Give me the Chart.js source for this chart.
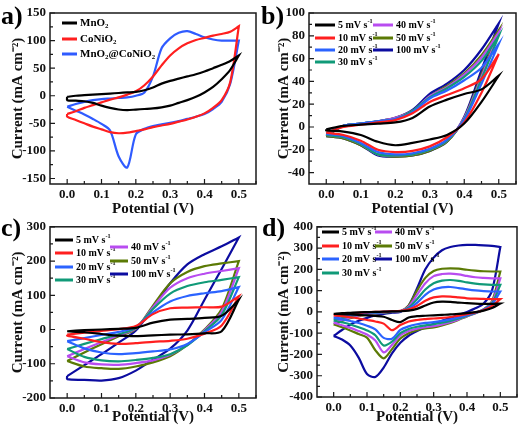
<!DOCTYPE html>
<html>
<head>
<meta charset="utf-8">
<script src="https://cdn.jsdelivr.net/npm/chart.js@4.4.0/dist/chart.umd.min.js"></script>
<style>
  body { margin: 0; background: #fff; }
  #wrap { position: relative; width: 520px; height: 429px; overflow: hidden; }
  canvas { position: absolute; }
  .tag { position: absolute; font: bold 26px "Liberation Serif", serif; line-height: 26px; color: #000; }
</style>
</head>
<body>
<div id="wrap">
  <canvas id="chartA" width="260" height="215" style="left:0;top:0"></canvas>
  <canvas id="chartB" width="260" height="215" style="left:260px;top:0"></canvas>
  <canvas id="chartC" width="260" height="214" style="left:0;top:215px"></canvas>
  <canvas id="chartD" width="260" height="214" style="left:260px;top:215px"></canvas>
  <div class="tag" style="left:1px;top:3px">a)</div>
  <div class="tag" style="left:261px;top:3px">b)</div>
  <div class="tag" style="left:1px;top:215px">c)</div>
  <div class="tag" style="left:262px;top:215px">d)</div>
</div>
<script>
// potential grids (V)
const potFine = [0, 0.025, 0.05, 0.075, 0.1, 0.125, 0.15, 0.175, 0.2, 0.225, 0.25,
                 0.275, 0.3, 0.325, 0.35, 0.375, 0.4, 0.425, 0.45, 0.475, 0.5];
const potCoarse = [0, 0.05, 0.1, 0.15, 0.2, 0.25, 0.3, 0.35, 0.4, 0.45, 0.5];

// tick labels
const xTicks = [0, 0.1, 0.2, 0.3, 0.4, 0.5];
const aYTicks = [-150, -100, -50, 0, 50, 100, 150];
const bYTicks = [-40, -20, 0, 20, 40, 60, 80, 100];
const cYTicks = [-200, -100, 0, 100, 200, 300];
const dYTicks = [-400, -300, -200, -100, 0, 100, 200, 300, 400];

// a) materials at one scan rate, current in mA cm-2 (Up = forward scan, Down = reverse)
const aMaterials = ['MnO_{2}', 'CoNiO_{2}', 'MnO_{2}@CoNiO_{2}'];
const aMnO2Up     = [-2, 0, 1, 2, 3, 4, 5, 6, 7, 10, 15, 22, 27, 31, 35, 39, 44, 50, 56, 63, 73];
const aMnO2Down   = [-8, -9, -10, -13, -18, -22, -25, -26, -25, -24, -23, -21, -18, -13, -8, -2, 6, 16, 30, 47, 73];
const aCoNiO2Up   = [-33, -28, -22, -17, -12, -7, -3, 2, 8, 19, 35, 55, 73, 86, 95, 101, 105, 109, 112, 116, 126];
const aCoNiO2Down = [-38, -44, -50, -56, -61, -66, -68, -67, -64, -61, -57, -54, -51, -47, -43, -38, -32, -22, -8, 25, 126];
const aCompUp     = [-20, -15, -11, -8, -6, -5, -4, -3, 0, 6, 35, 86, 104, 114, 117, 112, 106, 102, 100, 100, 100];
const aCompDown   = [-20, -27, -34, -42, -51, -63, -110, -130, -70, -60, -55, -52, -49, -46, -42, -38, -33, -24, -11, 22, 100];

// scan rates (mV s-1) used in b), c), d)
const rates = ['5', '10', '20', '30', '40', '50', '100'];

// b)
const b5Up     = [-2, 1, 2, 3, 4, 8, 18, 24, 29, 33, 45];
const b5Down   = [-3, -4, -7, -13, -16, -14, -11, -7, 3, 22, 45];
const b10Up    = [-5, 0, 2, 4, 6, 12, 22, 28, 34, 42, 64];
const b10Down  = [-5, -7, -12, -20, -22, -21, -17, -9, 4, 30, 64];
const b20Up    = [-6, 1, 3, 5, 7, 13, 25, 32, 41, 52, 73];
const b20Down  = [-6, -8, -14, -22, -24, -23, -19, -11, 6, 38, 73];
const b30Up    = [-7, 1, 3, 5, 7, 14, 26, 34, 44, 58, 80];
const b30Down  = [-7, -9, -15, -24, -25, -24, -20, -12, 7, 42, 80];
const b40Up    = [-7, 1, 3, 5, 8, 14, 27, 35, 46, 61, 83];
const b40Down  = [-7, -9, -15, -24, -25, -24, -20, -12, 8, 44, 83];
const b50Up    = [-8, 1, 3, 5, 8, 14, 27, 36, 47, 63, 85];
const b50Down  = [-8, -10, -16, -24, -26, -25, -21, -13, 8, 46, 85];
const b100Up   = [-8, 1, 3, 5, 8, 15, 29, 38, 50, 68, 91];
const b100Down = [-8, -10, -16, -25, -26, -25, -21, -13, 9, 50, 91];

// c)
const c5Up     = [-5, -2, 0, 2, 5, 20, 29, 31, 34, 40, 87];
const c5Down   = [-5, -8, -13, -18, -19, -17, -15, -14, -11, -5, 87];
const c10Up    = [-15, -9, -4, 1, 10, 45, 62, 64, 65, 67, 97];
const c10Down  = [-18, -27, -37, -42, -40, -36, -33, -27, -12, 12, 97];
const c20Up    = [-34, -25, -16, -7, 8, 50, 82, 98, 106, 112, 124];
const c20Down  = [-34, -55, -67, -72, -69, -64, -58, -42, -8, 28, 124];
const c30Up    = [-57, -42, -28, -14, 5, 60, 105, 127, 138, 145, 153];
const c30Down  = [-57, -80, -90, -93, -89, -83, -72, -46, -5, 42, 153];
const c40Up    = [-78, -57, -37, -17, 3, 65, 122, 150, 163, 171, 179];
const c40Down  = [-78, -96, -102, -103, -98, -90, -74, -45, -2, 52, 179];
const c50Up    = [-92, -67, -43, -20, 2, 70, 135, 168, 185, 193, 200];
const c50Down  = [-92, -108, -113, -115, -108, -96, -78, -45, 0, 60, 200];
const c100Up   = [-136, -104, -72, -38, -3, 65, 135, 190, 220, 243, 269];
const c100Down = [-145, -147, -149, -142, -120, -88, -56, -3, 87, 177, 269];

// d)
const d5Up     = [-9, -6, -4, -2, -1, 0, 1, 2, 3, 6, 14, 30, 44, 48, 47, 44, 41, 39, 38, 38, 39];
const d5Down   = [-9, -10, -12, -14, -16, -19, -23, -38, -48, -26, -20, -18, -16, -14, -12, -9, -6, -1, 6, 18, 39];
const d10Up    = [-16, -11, -7, -4, -2, 0, 1, 3, 5, 12, 28, 52, 68, 73, 72, 68, 64, 62, 61, 60, 60];
const d10Down  = [-16, -20, -25, -31, -38, -45, -55, -86, -62, -45, -38, -34, -31, -28, -24, -18, -11, -3, 9, 28, 60];
const d20Up    = [-28, -20, -14, -9, -5, -2, 0, 2, 4, 15, 42, 80, 105, 115, 117, 112, 106, 101, 98, 96, 96];
const d20Down  = [-28, -35, -43, -52, -65, -82, -122, -126, -85, -68, -58, -52, -48, -42, -35, -26, -15, -4, 11, 35, 96];
const d30Up    = [-40, -29, -20, -13, -8, -4, -1, 1, 3, 20, 60, 105, 135, 147, 150, 146, 139, 133, 129, 127, 127];
const d30Down  = [-40, -49, -59, -72, -87, -110, -158, -140, -100, -80, -70, -63, -58, -51, -42, -31, -18, -5, 11, 40, 127];
const d40Up    = [-51, -37, -26, -17, -11, -6, -2, 1, 3, 25, 80, 135, 168, 178, 180, 176, 169, 163, 160, 158, 158];
const d40Down  = [-51, -63, -75, -90, -106, -135, -190, -155, -110, -90, -79, -72, -67, -59, -48, -35, -20, -6, 11, 45, 158];
const d50Up    = [-59, -43, -30, -20, -13, -7, -3, 0, 3, 30, 100, 160, 192, 203, 205, 203, 198, 194, 191, 190, 190];
const d50Down  = [-59, -72, -87, -104, -121, -180, -218, -175, -125, -100, -86, -78, -73, -64, -52, -37, -21, -6, 12, 50, 190];
const d100Up   = [-113, -85, -60, -42, -28, -17, -9, -4, 0, 30, 110, 200, 255, 290, 305, 312, 315, 315, 313, 310, 305];
const d100Down = [-113, -130, -158, -215, -292, -306, -262, -195, -145, -112, -90, -72, -56, -42, -28, -14, 0, 17, 40, 100, 305];

const rateColors = ['#000000', '#ff1f1f', '#2b63ff', '#109a78', '#b84cf0', '#5b7a05', '#0c0ca0'];
const materialColors = ['#000000', '#ff1f1f', '#2f5bff'];

const serif = '"Liberation Serif", "Times New Roman", serif';
const tickFont = { family: serif, size: 13, weight: 'bold' };
const titleFont = { family: serif, size: 15, weight: 'bold', lineHeight: 1 };

// forward scan, then reverse scan, closed at the start
function loop(pot, up, down) {
  const pts = pot.map((x, i) => ({ x: x, y: up[i] }));
  for (let i = pot.length - 1; i >= 0; i--) pts.push({ x: pot[i], y: down[i] });
  pts.push({ x: pot[0], y: up[0] });
  return pts;
}

// text with _{sub} and ^{sup}
function drawRich(ctx, str, x, y, size) {
  ctx.textBaseline = 'middle';
  ctx.textAlign = 'left';
  str.split(/(\^\{[^}]*\}|_\{[^}]*\})/).forEach(p => {
    if (!p) return;
    let s = size, dy = 0, t = p;
    if (p[0] === '^') { s = size * 0.62; dy = -size * 0.38; t = p.slice(2, -1); }
    else if (p[0] === '_') { s = size * 0.62; dy = size * 0.3; t = p.slice(2, -1); }
    ctx.font = 'bold ' + s + 'px ' + serif;
    ctx.fillText(t, x, y + dy);
    x += ctx.measureText(t).width;
  });
}

function minorValues(ticks, min, max) {
  const step = ticks[1] - ticks[0];
  const out = [];
  for (let v = ticks[0] - step / 2; v < max; v += step) if (v > min) out.push(v);
  return out;
}

const framePlugin = {
  id: 'frame',
  afterDraw(chart, args, opts) {
    const { ctx, chartArea: a, scales: { x, y } } = chart;
    ctx.save();
    ctx.strokeStyle = '#1a1a1a';
    ctx.lineWidth = 1.2;
    ctx.beginPath();
    x.ticks.forEach(t => { const px = x.getPixelForValue(t.value); ctx.moveTo(px, a.bottom); ctx.lineTo(px, a.bottom - 5); });
    minorValues(xTicks, x.min, x.max).forEach(v => { const px = x.getPixelForValue(v); ctx.moveTo(px, a.bottom); ctx.lineTo(px, a.bottom - 3); });
    const yt = y.ticks.map(t => t.value);
    yt.forEach(v => { const py = y.getPixelForValue(v); ctx.moveTo(a.left, py); ctx.lineTo(a.left + 5, py); });
    minorValues(yt, y.min, y.max).forEach(v => { const py = y.getPixelForValue(v); ctx.moveTo(a.left, py); ctx.lineTo(a.left + 3, py); });
    ctx.stroke();
    ctx.lineWidth = 1.5;
    ctx.strokeRect(a.left, a.top, a.right - a.left, a.bottom - a.top);

    // legend
    (opts.items || []).forEach(it => {
      ctx.strokeStyle = it.color;
      ctx.lineWidth = 3;
      ctx.beginPath();
      ctx.moveTo(it.x, it.y);
      ctx.lineTo(it.x + opts.lineLen, it.y);
      ctx.stroke();
      ctx.fillStyle = '#000';
      drawRich(ctx, it.text, it.x + opts.lineLen + opts.gap, it.y, opts.size);
    });
    ctx.restore();
  }
};

function makePanel(id, p) {
  const canvas = document.getElementById(id);
  const H = canvas.height;
  return new Chart(canvas, {
    type: 'scatter',
    data: {
      datasets: p.series.map(s => ({
        data: s.points, borderColor: s.color, borderWidth: 2.2, showLine: true,
        pointRadius: 0, tension: 0.3, fill: false
      }))
    },
    options: {
      responsive: false,
      animation: false,
      layout: { padding: { top: p.top, right: p.right, left: 0, bottom: 0 } },
      plugins: { legend: { display: false }, tooltip: { enabled: false }, frame: p.legend },
      scales: {
        x: {
          type: 'linear', min: -0.05, max: 0.55,
          grid: { display: false, drawTicks: false }, border: { display: false },
          afterBuildTicks: s => { s.ticks = xTicks.map(v => ({ value: v })); },
          afterFit: s => { s.height = H - p.bottom; },
          ticks: { padding: 3, color: '#111', font: tickFont, callback: v => v.toFixed(1) },
          title: { display: true, text: 'Potential (V)', color: '#111', font: titleFont, padding: { top: 0, bottom: p.xTitlePad } }
        },
        y: {
          type: 'linear', min: p.yMin, max: p.yMax,
          grid: { display: false, drawTicks: false }, border: { display: false },
          afterBuildTicks: s => { s.ticks = p.yTicks.map(v => ({ value: v })); },
          afterFit: s => { s.width = p.left; },
          ticks: { padding: 4, color: '#111', font: tickFont, callback: v => String(v) },
          title: { display: true, text: 'Current (mA cm\u207B\u00B2)', color: '#111', font: titleFont, padding: { top: p.yTitlePad, bottom: 0 } }
        }
      }
    },
    plugins: [framePlugin]
  });
}

function rateSeries(pot, ups, downs) {
  return rates.map((r, i) => ({ points: loop(pot, ups[i], downs[i]), color: rateColors[i] }));
}

// legend entries: 5-30 in the left column, 40-100 in the right
function rateLegend(leftX, rightX, leftRows, rightRows) {
  return rates.map((r, i) => ({
    text: r + ' mV s^{-1}', color: rateColors[i],
    x: i < 4 ? leftX : rightX,
    y: i < 4 ? leftRows[i] : rightRows[i - 4]
  }));
}

makePanel('chartA', {
  series: [
    { points: loop(potFine, aMnO2Up, aMnO2Down), color: materialColors[0] },
    { points: loop(potFine, aCoNiO2Up, aCoNiO2Down), color: materialColors[1] },
    { points: loop(potFine, aCompUp, aCompDown), color: materialColors[2] }
  ],
  yMin: -160, yMax: 150, yTicks: aYTicks,
  left: 50, top: 13, right: 4, bottom: 184, xTitlePad: -2, yTitlePad: 11,
  legend: {
    lineLen: 15, gap: 3, size: 11,
    items: aMaterials.map((m, i) => ({ text: m, color: materialColors[i], x: 62, y: [23, 39, 54][i] }))
  }
});

makePanel('chartB', {
  series: rateSeries(potCoarse,
    [b5Up, b10Up, b20Up, b30Up, b40Up, b50Up, b100Up],
    [b5Down, b10Down, b20Down, b30Down, b40Down, b50Down, b100Down]),
  yMin: -50, yMax: 100, yTicks: bYTicks,
  left: 49, top: 13, right: 4, bottom: 184, xTitlePad: -2, yTitlePad: 17,
  legend: { lineLen: 20, gap: 3, size: 10, items: rateLegend(55, 113, [25, 38, 50, 62], [25, 38, 50]) }
});

makePanel('chartC', {
  series: rateSeries(potCoarse,
    [c5Up, c10Up, c20Up, c30Up, c40Up, c50Up, c100Up],
    [c5Down, c10Down, c20Down, c30Down, c40Down, c50Down, c100Down]),
  yMin: -200, yMax: 300, yTicks: cYTicks,
  left: 50, top: 10, right: 4, bottom: 183, xTitlePad: 4, yTitlePad: 11,
  legend: { lineLen: 18, gap: 3, size: 10, items: rateLegend(55, 110, [25, 38, 52, 65], [32, 46, 59]) }
});

makePanel('chartD', {
  series: rateSeries(potFine,
    [d5Up, d10Up, d20Up, d30Up, d40Up, d50Up, d100Up],
    [d5Down, d10Down, d20Down, d30Down, d40Down, d50Down, d100Down]),
  yMin: -400, yMax: 400, yTicks: dYTicks,
  left: 57, top: 10, right: 3, bottom: 182, xTitlePad: 4, yTitlePad: 17,
  legend: { lineLen: 17, gap: 3, size: 10, items: rateLegend(62, 115, [17, 31, 44, 58], [17, 31, 44]) }
});
</script>
</body>
</html>
